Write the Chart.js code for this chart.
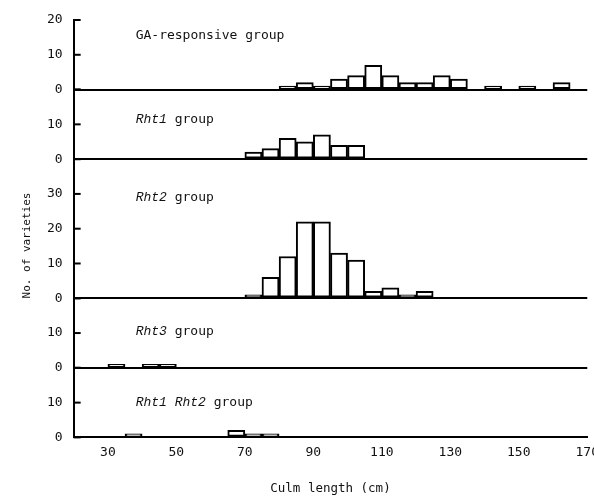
<!DOCTYPE html>
<html>
<head>
<meta charset="utf-8">
<script src="https://cdn.jsdelivr.net/npm/chart.js@4.4.0/dist/chart.umd.min.js"></script>
<style>
  html, body { margin: 0; padding: 0; background: #fff; overflow: hidden; }
  #wrap { width: 594px; height: 501px; overflow: hidden; }
</style>
</head>
<body>
<div id="wrap"><canvas id="chart" width="606" height="501"></canvas></div>
<script>
// Culm length bins (5 cm wide), given by their centres
const binCentres = [22.5, 27.5, 32.5, 37.5, 42.5, 47.5, 52.5, 57.5, 62.5, 67.5,
                    72.5, 77.5, 82.5, 87.5, 92.5, 97.5, 102.5, 107.5, 112.5, 117.5,
                    122.5, 127.5, 132.5, 137.5, 142.5, 147.5, 152.5, 157.5, 162.5, 167.5];

// Number of varieties in each bin
const gaCounts    = [0, 0, 0, 0, 0, 0, 0, 0, 0, 0,  0, 0, 1, 2, 1, 3, 4, 7, 4, 2,  2, 4, 3, 0, 1, 0, 1, 0, 2, 0];
const rht1Counts  = [0, 0, 0, 0, 0, 0, 0, 0, 0, 0,  2, 3, 6, 5, 7, 4, 4, 0, 0, 0,  0, 0, 0, 0, 0, 0, 0, 0, 0, 0];
const rht2Counts  = [0, 0, 0, 0, 0, 0, 0, 0, 0, 0,  1, 6, 12, 22, 22, 13, 11, 2, 3, 1,  2, 0, 0, 0, 0, 0, 0, 0, 0, 0];
const rht3Counts  = [0, 0, 1, 0, 1, 1, 0, 0, 0, 0,  0, 0, 0, 0, 0, 0, 0, 0, 0, 0,  0, 0, 0, 0, 0, 0, 0, 0, 0, 0];
const rht12Counts = [0, 0, 0, 1, 0, 0, 0, 0, 0, 2,  1, 1, 0, 0, 0, 0, 0, 0, 0, 0,  0, 0, 0, 0, 0, 0, 0, 0, 0, 0];

// Axis ranges and ticks
const xTickValues = [30, 50, 70, 90, 110, 130, 150, 170];
const panelMax = [20, 20, 40, 20, 20];   // top to bottom

// Group names: [italic gene part, plain part]
const groupNames = [
    ['', 'GA-responsive group'],
    ['Rht1', ' group'],
    ['Rht2', ' group'],
    ['Rht3', ' group'],
    ['Rht1 Rht2', ' group']
];
const groupCounts = [gaCounts, rht1Counts, rht2Counts, rht3Counts, rht12Counts];

// where the group name sits, in units of its own panel
const labelLevel = [15.5, 11.5, 29, 10.5, 10];

const INK = '#111';
const MONO = "'DejaVu Sans Mono', monospace";

function toPoints(counts) {
    return binCentres.map((x, i) => ({ x: x, y: counts[i] })).filter(p => p.y > 0);
}

const datasets = groupCounts.map((counts, i) => ({
    label: groupNames[i].join(''),
    data: toPoints(counts),
    yAxisID: 'y' + i,
    backgroundColor: '#fff',
    borderColor: '#000',
    borderWidth: 2,
    borderSkipped: false,
    barPercentage: 1,
    categoryPercentage: 1,
    grouped: false
}));

// y scales: defined bottom first so the stack is laid out top to bottom
const scales = {
    x: {
        type: 'linear',
        min: 20,
        max: 170,
        offset: false,
        afterBuildTicks: scale => { scale.ticks = xTickValues.map(v => ({ value: v })); },
        grid: { display: false, drawTicks: false },
        border: { color: '#000', width: 2 },
        ticks: { color: INK, font: { family: MONO, size: 13 }, padding: 7, maxRotation: 0 },
        title: {
            display: true,
            text: 'Culm length (cm)',
            color: INK,
            font: { family: MONO, size: 12.5 },
            padding: { top: 14, bottom: 3 }
        }
    }
};
for (let i = panelMax.length - 1; i >= 0; i--) {
    const top = i === 0;
    const max = panelMax[i];
    scales['y' + i] = {
        type: 'linear',
        position: 'left',
        stack: 'groups',
        stackWeight: max,
        min: 0,
        max: max,
        offset: false,
        ticks: {
            stepSize: 10,
            color: INK,
            padding: 11,
            font: { family: MONO, size: 13 },
            callback: v => (v === max && !top) ? '' : v
        },
        grid: {
            drawTicks: false,
            lineWidth: 2,
            color: ctx => (ctx.tick && ctx.tick.value === 0) ? '#000' : 'rgba(0,0,0,0)'
        },
        border: { color: '#000', width: 2 }
    };
}

// inward tick marks, group names and the y title
const decorations = {
    id: 'decorations',
    afterDatasetsDraw(chart) {
        const ctx = chart.ctx;
        const area = chart.chartArea;
        ctx.save();
        ctx.strokeStyle = '#000';
        ctx.lineWidth = 2;
        panelMax.forEach((max, i) => {
            const s = chart.scales['y' + i];
            s.ticks.forEach(t => {
                const y = s.getPixelForValue(t.value);
                ctx.beginPath();
                ctx.moveTo(area.left, y);
                ctx.lineTo(area.left + 7, y);
                ctx.stroke();
            });
        });

        ctx.fillStyle = INK;
        ctx.textBaseline = 'middle';
        ctx.textAlign = 'left';
        groupNames.forEach((name, i) => {
            const s = chart.scales['y' + i];
            const y = s.getPixelForValue(labelLevel[i]);
            let x = area.left + 62;
            if (name[0]) {
                ctx.font = "italic 13px 'Liberation Mono', monospace";
                ctx.fillText(name[0], x, y);
                x += ctx.measureText(name[0]).width;
            }
            ctx.font = '13px ' + MONO;
            ctx.fillText(name[1], x, y);
        });

        ctx.font = '11px ' + MONO;
        ctx.textAlign = 'center';
        ctx.translate(27, chart.height / 2 - 5);
        ctx.rotate(-Math.PI / 2);
        ctx.fillText('No. of varieties', 0, 0);
        ctx.restore();
    }
};

new Chart(document.getElementById('chart'), {
    type: 'bar',
    data: { datasets: datasets },
    options: {
        responsive: false,
        animation: false,
        layout: { padding: { left: 36, top: 20, right: 0, bottom: 2 } },
        plugins: {
            legend: { display: false },
            tooltip: { enabled: false }
        },
        scales: scales
    },
    plugins: [decorations]
});
</script>
</body>
</html>
